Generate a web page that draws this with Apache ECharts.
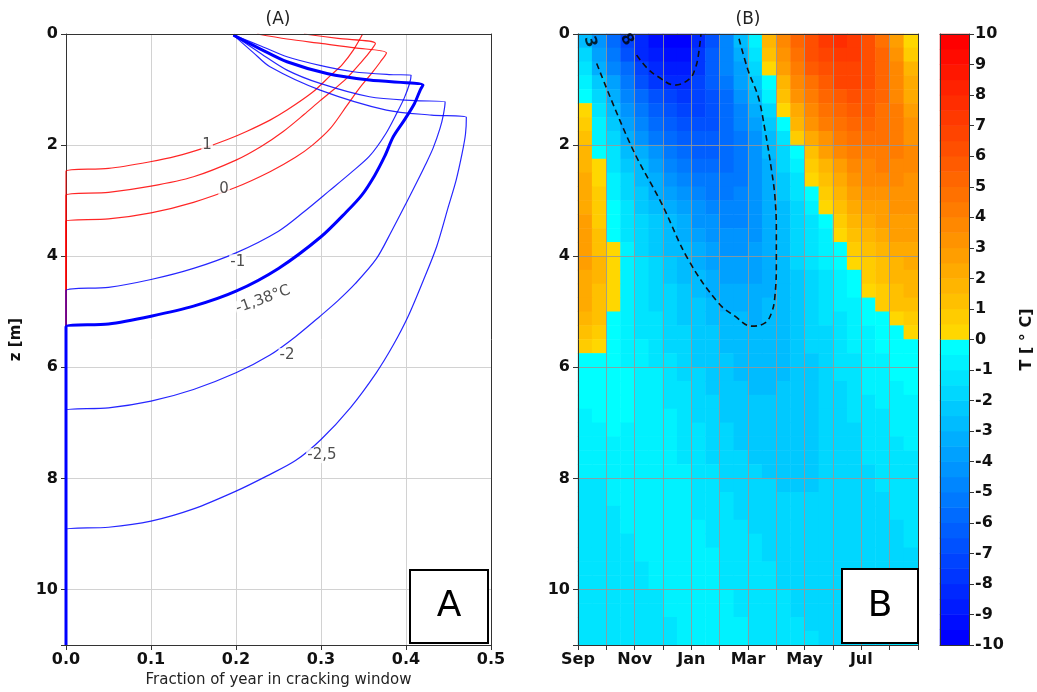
<!DOCTYPE html>
<html>
<head>
<meta charset="utf-8">
<title>Cracking window and ground temperature</title>
<script src="https://cdn.jsdelivr.net/npm/echarts@6.0.0/dist/echarts.min.js"></script>
<style>
  html, body { margin: 0; padding: 0; background: #ffffff; }
  #chart { width: 1037px; height: 692px; }
</style>
</head>
<body>
<div id="chart"></div>
<script>
// ---- (A) depth vs fraction of year in cracking window, [fraction, z]
var lineP1 = [[0.349,0],[0.338,0.29],[0.325,0.55],[0.311,0.75],[0.29,1.05],[0.26,1.37],[0.24,1.55],[0.213,1.75],[0.19,1.9],[0.161,2.06],[0.13,2.2],[0.099,2.3],[0.05,2.42],[0,2.47],[0,11]];
var lineP05 = [[0.28,0],[0.32,0.08],[0.364,0.17],[0.356,0.35],[0.346,0.53],[0.33,0.8],[0.315,1.0],[0.299,1.2],[0.28,1.45],[0.256,1.75],[0.23,2.02],[0.2,2.27],[0.15,2.57],[0.1,2.74],[0.05,2.85],[0,2.9],[0,11]];
var lineP0 = [[0.225,0],[0.26,0.09],[0.3,0.17],[0.34,0.25],[0.377,0.34],[0.37,0.5],[0.36,0.7],[0.345,0.98],[0.33,1.3],[0.311,1.7],[0.29,2.0],[0.27,2.22],[0.24,2.48],[0.2,2.76],[0.15,3.03],[0.1,3.22],[0.05,3.33],[0,3.37],[0,11]];
var lineM1 = [[0.197,0.02],[0.23,0.22],[0.26,0.41],[0.3,0.57],[0.338,0.68],[0.38,0.73],[0.406,0.74],[0.404,0.9],[0.398,1.15],[0.39,1.4],[0.376,1.8],[0.357,2.2],[0.335,2.5],[0.31,2.82],[0.28,3.2],[0.25,3.55],[0.2,3.94],[0.15,4.22],[0.1,4.42],[0.05,4.56],[0,4.62],[0,11]];
var lineM138 = [[0.197,0.02],[0.23,0.28],[0.26,0.5],[0.307,0.71],[0.357,0.83],[0.42,0.92],[0.417,1.0],[0.41,1.25],[0.398,1.55],[0.385,1.85],[0.375,2.2],[0.363,2.55],[0.348,2.9],[0.33,3.2],[0.3,3.65],[0.25,4.22],[0.2,4.63],[0.15,4.9],[0.1,5.08],[0.05,5.22],[0,5.27],[0,11]];
var lineM2 = [[0.197,0.02],[0.23,0.36],[0.26,0.65],[0.299,0.89],[0.357,1.13],[0.41,1.2],[0.446,1.22],[0.444,1.45],[0.44,1.7],[0.432,2.05],[0.423,2.35],[0.414,2.63],[0.4,3.05],[0.383,3.55],[0.365,4.05],[0.34,4.5],[0.32,4.8],[0.299,5.08],[0.27,5.45],[0.24,5.78],[0.2,6.1],[0.15,6.4],[0.1,6.61],[0.05,6.73],[0,6.77],[0,11]];
var lineM25 = [[0.197,0.02],[0.22,0.33],[0.24,0.59],[0.299,1.01],[0.377,1.37],[0.43,1.46],[0.471,1.5],[0.47,1.8],[0.466,2.15],[0.459,2.63],[0.45,3.1],[0.436,3.83],[0.42,4.45],[0.402,5.1],[0.385,5.6],[0.365,6.1],[0.335,6.72],[0.3,7.3],[0.27,7.68],[0.236,7.96],[0.2,8.23],[0.15,8.55],[0.1,8.77],[0.05,8.88],[0,8.92],[0,11]];
// contour labels: text, fraction, z, rotation
var labelsA = [['1',0.166,2.0,0],['0',0.186,2.8,0],['-1',0.202,4.1,0],['-1,38°C',0.232,4.78,20],['-2',0.26,5.79,0],['-2,5',0.301,7.59,0]];

// ---- (B) ground temperature, months since 1 Sep x depth
var monthNames = ['Sep','Oct','Nov','Dec','Jan','Feb','Mar','Apr','May','Jun','Jul','Aug'];
var monthCenters = [0.25,0.75,1.25,1.75,2.25,2.75,3.25,3.75,4.25,4.75,5.25,5.75,6.25,6.75,7.25,7.75,8.25,8.75,9.25,9.75,10.25,10.75,11.25,11.75];
var depthCenters = [0.125,0.375,0.625,0.875,1.125,1.375,1.625,1.875,2.125,2.375,2.625,2.875,3.125,3.375,3.625,3.875,4.125,4.375,4.625,4.875,5.125,5.375,5.625,5.875,6.125,6.375,6.625,6.875,7.125,7.375,7.625,7.875,8.125,8.375,8.625,8.875,9.125,9.375,9.625,9.875,10.125,10.375,10.625,10.875];
var tempRows = [
  [-2.6,-4.2,-5.6,-7.1,-8.5,-9.4,-9.9,-9.6,-8.3,-6.6,-4.7,-2.8,-0.6,1.8,3.9,5.3,6.4,7.2,7.6,7.2,6.2,4.6,2.6,0.2],
  [-2.0,-3.7,-5.1,-6.6,-8.1,-9.0,-9.4,-9.2,-8.0,-6.5,-4.8,-3.2,-1.2,1.0,3.2,4.8,6.0,6.9,7.3,7.1,6.3,5.0,3.2,0.8],
  [-1.3,-3.1,-4.6,-6.0,-7.3,-8.3,-8.8,-8.6,-7.7,-6.4,-5.0,-3.7,-2.0,0.3,2.5,4.2,5.5,6.4,6.9,6.9,6.3,5.2,3.6,1.5],
  [-0.6,-2.5,-4.0,-5.4,-6.6,-7.6,-8.2,-8.1,-7.5,-6.5,-5.3,-4.0,-2.5,-0.3,1.9,3.6,4.9,5.9,6.5,6.6,6.2,5.3,3.9,2.0],
  [-0.2,-1.9,-3.3,-4.7,-5.9,-6.8,-7.4,-7.6,-7.3,-6.6,-5.6,-4.4,-3.0,-1.0,1.2,3.0,4.3,5.3,5.9,6.1,5.8,5.1,3.9,2.3],
  [0.2,-1.4,-2.8,-4.1,-5.3,-6.2,-6.9,-7.2,-7.1,-6.6,-5.8,-4.7,-3.4,-1.6,0.4,2.3,3.7,4.7,5.4,5.6,5.5,4.9,4.0,2.7],
  [0.6,-1.0,-2.3,-3.6,-4.7,-5.6,-6.3,-6.8,-6.9,-6.6,-5.9,-5.0,-3.8,-2.2,-0.4,1.6,3.0,4.1,4.8,5.1,5.1,4.7,4.0,3.0],
  [1.1,-0.6,-1.9,-3.1,-4.2,-5.1,-5.8,-6.3,-6.5,-6.5,-6.0,-5.2,-4.1,-2.7,-1.1,0.7,2.2,3.4,4.2,4.6,4.7,4.5,4.0,3.3],
  [1.6,-0.2,-1.5,-2.6,-3.5,-4.4,-5.2,-5.8,-6.2,-6.3,-6.0,-5.3,-4.3,-3.0,-1.6,-0.1,1.3,2.6,3.5,4.0,4.3,4.3,4.0,3.5],
  [1.9,0.2,-1.2,-2.2,-3.0,-3.9,-4.7,-5.3,-5.7,-5.9,-5.8,-5.3,-4.4,-3.2,-1.9,-0.6,0.7,1.9,2.9,3.5,3.9,4.0,3.9,3.5],
  [2.1,0.4,-0.9,-1.9,-2.7,-3.5,-4.2,-4.8,-5.2,-5.5,-5.5,-5.1,-4.4,-3.3,-2.2,-1.1,0.1,1.3,2.3,3.0,3.5,3.7,3.7,3.4],
  [2.3,0.6,-0.6,-1.6,-2.4,-3.1,-3.8,-4.4,-4.8,-5.1,-5.2,-5.0,-4.4,-3.4,-2.4,-1.4,-0.4,0.8,1.8,2.5,3.0,3.3,3.4,3.3],
  [2.4,0.7,-0.4,-1.4,-2.1,-2.7,-3.3,-3.9,-4.4,-4.8,-5.0,-4.9,-4.4,-3.5,-2.6,-1.7,-0.8,0.2,1.2,2.0,2.6,2.9,3.1,3.1],
  [2.5,0.9,-0.2,-1.2,-1.9,-2.5,-3.0,-3.5,-4.1,-4.5,-4.7,-4.7,-4.3,-3.5,-2.7,-1.9,-1.1,-0.3,0.7,1.5,2.2,2.6,2.8,2.9],
  [2.5,1.1,-0.1,-1.1,-1.7,-2.3,-2.8,-3.2,-3.8,-4.2,-4.5,-4.5,-4.2,-3.5,-2.7,-2.0,-1.3,-0.6,0.2,1.0,1.7,2.2,2.5,2.7],
  [2.5,1.4,0.1,-1.0,-1.6,-2.1,-2.6,-3.0,-3.5,-3.9,-4.2,-4.2,-4.0,-3.5,-2.7,-2.0,-1.4,-0.9,-0.2,0.5,1.2,1.8,2.2,2.4],
  [2.5,1.5,0.1,-0.9,-1.5,-2.0,-2.4,-2.8,-3.2,-3.6,-3.9,-4.0,-3.9,-3.4,-2.7,-2.0,-1.5,-1.0,-0.5,0.2,0.8,1.4,1.9,2.2],
  [2.4,1.5,0.2,-0.9,-1.4,-1.8,-2.2,-2.6,-2.9,-3.3,-3.6,-3.8,-3.7,-3.3,-2.7,-2.1,-1.6,-1.2,-0.7,-0.1,0.5,1.1,1.6,1.9],
  [2.2,1.4,0.2,-0.9,-1.3,-1.7,-2.0,-2.3,-2.7,-3.1,-3.4,-3.5,-3.5,-3.1,-2.7,-2.2,-1.7,-1.3,-0.9,-0.4,0.2,0.8,1.3,1.6],
  [2.0,1.2,0.1,-0.9,-1.3,-1.6,-1.9,-2.2,-2.5,-2.8,-3.1,-3.3,-3.3,-3.0,-2.6,-2.2,-1.8,-1.4,-1.0,-0.6,-0.1,0.5,1.0,1.3],
  [1.7,1.0,-0.2,-0.9,-1.2,-1.5,-1.8,-2.1,-2.3,-2.6,-2.8,-3.0,-3.1,-2.9,-2.6,-2.2,-1.8,-1.5,-1.1,-0.8,-0.4,-0.1,0.4,0.8],
  [1.3,0.8,-0.3,-0.8,-1.1,-1.4,-1.7,-2.0,-2.2,-2.5,-2.7,-2.8,-2.9,-2.8,-2.6,-2.3,-1.9,-1.6,-1.2,-0.9,-0.6,-0.3,-0.1,0.4],
  [0.6,0.1,-0.4,-0.7,-1.0,-1.3,-1.6,-1.9,-2.1,-2.4,-2.6,-2.7,-2.8,-2.8,-2.6,-2.3,-2.0,-1.7,-1.4,-1.0,-0.7,-0.5,-0.3,-0.1],
  [-0.2,-0.3,-0.5,-0.7,-0.9,-1.2,-1.5,-1.8,-2.1,-2.3,-2.5,-2.7,-2.8,-2.8,-2.6,-2.4,-2.1,-1.8,-1.5,-1.2,-0.9,-0.6,-0.4,-0.2],
  [-0.3,-0.3,-0.4,-0.5,-0.7,-1.0,-1.3,-1.6,-1.9,-2.2,-2.4,-2.6,-2.7,-2.7,-2.6,-2.4,-2.1,-1.8,-1.5,-1.2,-0.9,-0.7,-0.5,-0.3],
  [-0.3,-0.3,-0.4,-0.5,-0.7,-0.9,-1.2,-1.5,-1.8,-2.1,-2.3,-2.5,-2.6,-2.6,-2.5,-2.4,-2.1,-1.9,-1.6,-1.3,-1.0,-0.8,-0.6,-0.4],
  [-0.4,-0.3,-0.4,-0.5,-0.7,-0.9,-1.1,-1.4,-1.7,-2.0,-2.2,-2.4,-2.5,-2.5,-2.5,-2.4,-2.2,-1.9,-1.7,-1.4,-1.1,-0.9,-0.7,-0.6],
  [-0.6,-0.4,-0.4,-0.5,-0.7,-0.8,-1.0,-1.3,-1.6,-1.9,-2.1,-2.3,-2.4,-2.5,-2.5,-2.4,-2.2,-2.0,-1.8,-1.5,-1.3,-1.1,-0.9,-0.8],
  [-0.7,-0.6,-0.5,-0.6,-0.7,-0.8,-1.0,-1.2,-1.5,-1.8,-2.0,-2.2,-2.3,-2.4,-2.4,-2.4,-2.2,-2.0,-1.8,-1.6,-1.4,-1.2,-1.0,-0.9],
  [-0.8,-0.8,-0.7,-0.6,-0.7,-0.8,-0.9,-1.1,-1.4,-1.7,-1.9,-2.1,-2.2,-2.3,-2.3,-2.3,-2.2,-2.0,-1.8,-1.6,-1.5,-1.3,-1.1,-1.0],
  [-0.9,-0.9,-0.8,-0.7,-0.7,-0.8,-0.9,-1.1,-1.3,-1.6,-1.8,-2.0,-2.1,-2.2,-2.3,-2.3,-2.2,-2.0,-1.9,-1.7,-1.5,-1.4,-1.2,-1.1],
  [-1.0,-1.0,-0.9,-0.8,-0.7,-0.8,-0.9,-1.0,-1.2,-1.5,-1.7,-1.9,-2.0,-2.1,-2.2,-2.2,-2.1,-2.0,-1.9,-1.7,-1.6,-1.4,-1.3,-1.2],
  [-1.1,-1.1,-1.0,-0.9,-0.8,-0.8,-0.9,-1.0,-1.2,-1.4,-1.6,-1.8,-1.9,-2.0,-2.1,-2.1,-2.1,-2.0,-1.9,-1.8,-1.6,-1.5,-1.4,-1.3],
  [-1.2,-1.1,-1.0,-0.9,-0.8,-0.8,-0.9,-1.0,-1.1,-1.3,-1.5,-1.7,-1.8,-1.9,-2.0,-2.0,-2.0,-1.9,-1.9,-1.8,-1.7,-1.6,-1.5,-1.4],
  [-1.3,-1.2,-1.1,-1.0,-0.9,-0.8,-0.8,-0.9,-1.1,-1.2,-1.4,-1.6,-1.7,-1.8,-1.9,-1.9,-1.9,-1.9,-1.8,-1.8,-1.7,-1.6,-1.5,-1.4],
  [-1.3,-1.2,-1.1,-1.0,-0.9,-0.8,-0.8,-0.9,-1.0,-1.2,-1.3,-1.5,-1.6,-1.7,-1.8,-1.9,-1.9,-1.9,-1.8,-1.8,-1.7,-1.6,-1.6,-1.5],
  [-1.4,-1.3,-1.2,-1.1,-0.9,-0.8,-0.8,-0.9,-1.0,-1.1,-1.3,-1.4,-1.5,-1.7,-1.8,-1.8,-1.9,-1.9,-1.8,-1.8,-1.7,-1.7,-1.6,-1.5],
  [-1.4,-1.3,-1.2,-1.1,-1.0,-0.9,-0.8,-0.9,-0.9,-1.0,-1.2,-1.3,-1.5,-1.6,-1.7,-1.8,-1.8,-1.8,-1.8,-1.8,-1.7,-1.7,-1.6,-1.6],
  [-1.4,-1.4,-1.3,-1.2,-1.1,-0.9,-0.9,-0.9,-0.9,-1.0,-1.1,-1.3,-1.4,-1.5,-1.6,-1.7,-1.8,-1.8,-1.8,-1.8,-1.7,-1.7,-1.6,-1.6],
  [-1.5,-1.4,-1.3,-1.2,-1.1,-1.0,-0.9,-0.9,-0.9,-1.0,-1.1,-1.2,-1.3,-1.5,-1.6,-1.7,-1.7,-1.8,-1.8,-1.7,-1.7,-1.7,-1.6,-1.6],
  [-1.5,-1.4,-1.4,-1.3,-1.2,-1.1,-1.0,-0.9,-0.9,-1.0,-1.0,-1.1,-1.3,-1.4,-1.5,-1.6,-1.7,-1.7,-1.7,-1.7,-1.7,-1.7,-1.6,-1.6],
  [-1.5,-1.5,-1.4,-1.3,-1.2,-1.1,-1.0,-1.0,-0.9,-0.9,-1.0,-1.1,-1.2,-1.3,-1.5,-1.6,-1.6,-1.7,-1.7,-1.7,-1.7,-1.6,-1.6,-1.6],
  [-1.5,-1.5,-1.4,-1.4,-1.3,-1.2,-1.1,-1.0,-0.9,-0.9,-1.0,-1.0,-1.1,-1.3,-1.4,-1.5,-1.6,-1.6,-1.7,-1.7,-1.6,-1.6,-1.6,-1.5],
  [-1.5,-1.5,-1.5,-1.4,-1.3,-1.2,-1.1,-1.0,-1.0,-0.9,-0.9,-1.0,-1.1,-1.2,-1.3,-1.5,-1.5,-1.6,-1.6,-1.6,-1.6,-1.6,-1.5,-1.5]
];
// dashed isotherms in (B), [month, z]
var contourM3 = [[0.66,0.53],[1.89,2.03],[2.95,3.05],[3.89,4.06],[4.95,4.84],[5.54,5.08],[6.13,5.26],[6.6,5.2],[6.83,5.02],[6.95,4.72],[7.0,4.12],[7.0,3.53],[6.95,2.93],[6.83,2.45],[6.6,1.73],[6.36,1.13],[6.0,0.65],[5.65,0.02]];
var contourM8 = [[2.07,0.38],[2.45,0.62],[2.83,0.77],[3.42,0.92],[3.95,0.8],[4.15,0.6],[4.24,0.41],[4.34,0]];
var labelsB = [['3',0.42,0.14,-75],['8',1.72,0.1,-60]];

// colour bar bins
var cbarLevels = [-9.75,-9.25,-8.75,-8.25,-7.75,-7.25,-6.75,-6.25,-5.75,-5.25,-4.75,-4.25,-3.75,-3.25,-2.75,-2.25,-1.75,-1.25,-0.75,-0.25,0.25,0.75,1.25,1.75,2.25,2.75,3.25,3.75,4.25,4.75,5.25,5.75,6.25,6.75,7.25,7.75,8.25,8.75,9.25,9.75];

var FONT = 'DejaVu Sans';
var tickText = { fontFamily: FONT, fontSize: 16, fontWeight: 'bold', color: '#111' };

var heatData = [];
tempRows.forEach(function (row, i) {
  row.forEach(function (t, j) { heatData.push([j, i, t]); });
});
var cbarData = cbarLevels.map(function (v, k) { return [0, k, v]; });

// 0.5 degC bins: cyan -> blue below zero, gold -> red above
var pieces = [];
for (var k = 0; k < 20; k++) {
  pieces.push({ gte: -0.5 * (k + 1), lt: -0.5 * k, color: 'rgb(0,' + Math.round(255 * (19 - k) / 19) + ',255)' });
  pieces.push({ gte: 0.5 * k, lt: 0.5 * (k + 1), color: 'rgb(255,' + Math.round(215 * (19 - k) / 19) + ',0)' });
}

function frameAxis(gridIndex, position, min, max, inverse) {
  return {
    type: 'value', gridIndex: gridIndex, position: position, min: min, max: max, inverse: !!inverse,
    axisLine: { show: true, onZero: false, lineStyle: { color: '#333', width: 1 } },
    axisTick: { show: false }, axisLabel: { show: false }, splitLine: { show: false }, z: 4
  };
}

function lineA(name, data, color, width) {
  return {
    name: name, type: 'line', xAxisIndex: 0, yAxisIndex: 0, data: data,
    symbol: 'none', smooth: 0.3, lineStyle: { color: color, width: width }, z: 3
  };
}

var chart = echarts.init(document.getElementById('chart'));
chart.setOption({
  animation: false,
  backgroundColor: '#ffffff',
  grid: [
    { left: 66, top: 34, width: 425, height: 611, outerBoundsMode: 'none' },
    { left: 578, top: 34, width: 340, height: 611, outerBoundsMode: 'none' },
    { left: 940, top: 34, width: 29, height: 611, outerBoundsMode: 'none' }
  ],
  visualMap: { type: 'piecewise', show: false, dimension: 2, seriesIndex: [0, 1], pieces: pieces },
  xAxis: [
    {
      type: 'value', gridIndex: 0, position: 'bottom', min: 0, max: 0.5, interval: 0.1,
      axisLine: { onZero: false, lineStyle: { color: '#333' } },
      axisTick: { show: true, length: 5, lineStyle: { color: '#333' } },
      axisLabel: Object.assign({ margin: 7, formatter: function (v) { return v.toFixed(1); } }, tickText),
      splitLine: { show: true, lineStyle: { color: '#d2d2d2' } },
      name: 'Fraction of year in cracking window', nameLocation: 'middle', nameGap: 28,
      nameTextStyle: { fontFamily: FONT, fontSize: 15, color: '#222' }
    },
    frameAxis(0, 'top', 0, 0.5),
    { type: 'category', gridIndex: 1, position: 'bottom', data: monthCenters, show: false },
    {
      type: 'value', gridIndex: 1, position: 'bottom', min: 0, max: 12, interval: 1, z: 3,
      axisLine: { onZero: false, lineStyle: { color: '#333' } },
      axisTick: { show: true, length: 5, lineStyle: { color: '#333' } },
      axisLabel: Object.assign({ margin: 7, formatter: function (v) { return (v % 2 === 0 && v < 12) ? monthNames[v] : ''; } }, tickText),
      splitLine: { show: true, lineStyle: { color: 'rgba(150,150,150,0.85)' } }
    },
    frameAxis(1, 'top', 0, 12),
    {
      type: 'category', gridIndex: 2, position: 'bottom', data: ['T'], z: 4,
      axisLine: { show: true, onZero: false, lineStyle: { color: '#333' } },
      axisTick: { show: false }, axisLabel: { show: false }
    },
    {
      type: 'category', gridIndex: 2, data: ['T'], position: 'top', z: 4,
      axisLine: { show: true, onZero: false, lineStyle: { color: '#333' } },
      axisTick: { show: false }, axisLabel: { show: false }
    }
  ],
  yAxis: [
    {
      type: 'value', gridIndex: 0, position: 'left', min: 0, max: 11, interval: 2, inverse: true,
      axisLine: { onZero: false, lineStyle: { color: '#333' } },
      axisTick: { show: true, length: 5, lineStyle: { color: '#333' } },
      axisLabel: Object.assign({ margin: 8, formatter: function (v) { return v === 11 ? '' : v; } }, tickText),
      splitLine: { show: true, lineStyle: { color: '#d2d2d2' } },
      name: 'z [m]', nameLocation: 'middle', nameGap: 42, nameRotate: 90,
      nameTextStyle: { fontFamily: FONT, fontSize: 15, fontWeight: 'bold', color: '#111' }
    },
    frameAxis(0, 'right', 0, 11, true),
    { type: 'category', gridIndex: 1, position: 'left', data: depthCenters, inverse: true, show: false },
    {
      type: 'value', gridIndex: 1, position: 'left', min: 0, max: 11, interval: 2, inverse: true, z: 3,
      axisLine: { onZero: false, lineStyle: { color: '#333' } },
      axisTick: { show: true, length: 5, lineStyle: { color: '#333' } },
      axisLabel: Object.assign({ margin: 8, formatter: function (v) { return v === 11 ? '' : v; } }, tickText),
      splitLine: { show: true, lineStyle: { color: 'rgba(150,150,150,0.85)' } }
    },
    frameAxis(1, 'right', 0, 11, true),
    {
      type: 'category', gridIndex: 2, position: 'left', data: cbarLevels, z: 4,
      axisLine: { show: true, onZero: false, lineStyle: { color: '#333' } },
      axisTick: { show: false }, axisLabel: { show: false }
    },
    {
      type: 'value', gridIndex: 2, position: 'right', min: -10, max: 10, interval: 1, z: 4,
      axisLine: { show: true, onZero: false, lineStyle: { color: '#333' } },
      axisTick: { show: true, length: 5, lineStyle: { color: '#333' } },
      axisLabel: Object.assign({ margin: 6 }, tickText),
      splitLine: { show: false },
      name: 'T [ ° C]', nameLocation: 'middle', nameRotate: 90, nameGap: 50,
      nameTextStyle: { fontFamily: FONT, fontSize: 16, fontWeight: 'bold', color: '#111' }
    }
  ],
  series: [
    { type: 'heatmap', xAxisIndex: 2, yAxisIndex: 2, data: heatData, z: 1, emphasis: { disabled: true } },
    { type: 'heatmap', xAxisIndex: 5, yAxisIndex: 5, data: cbarData, z: 1, emphasis: { disabled: true } },
    {
      type: 'line', xAxisIndex: 3, yAxisIndex: 3, data: contourM3, symbol: 'none', smooth: 0.4, z: 6,
      lineStyle: { color: '#111', width: 1.6, type: [6, 4] }
    },
    {
      type: 'line', xAxisIndex: 3, yAxisIndex: 3, data: contourM8, symbol: 'none', smooth: 0.4, z: 6,
      lineStyle: { color: '#111', width: 1.6, type: [6, 4] }
    },
    {
      type: 'scatter', xAxisIndex: 3, yAxisIndex: 3, symbolSize: 0, z: 7,
      data: labelsB.map(function (l) { return { name: l[0], value: [l[1], l[2]], label: { rotate: l[3] } }; }),
      label: { show: true, position: 'inside', formatter: '{b}', fontFamily: FONT, fontSize: 16, fontWeight: 'bold', color: '#000' }
    },
    lineA('1', lineP1, 'rgba(255,0,0,0.85)', 1.2),
    lineA('0.5', lineP05, 'rgba(255,0,0,0.85)', 1.2),
    lineA('0', lineP0, 'rgba(255,0,0,0.85)', 1.2),
    lineA('-1', lineM1, 'rgba(0,0,255,0.85)', 1.2),
    lineA('-1.38', lineM138, 'rgba(0,0,255,1)', 3),
    lineA('-2', lineM2, 'rgba(0,0,255,0.85)', 1.2),
    lineA('-2.5', lineM25, 'rgba(0,0,255,0.85)', 1.2),
    {
      type: 'scatter', xAxisIndex: 0, yAxisIndex: 0, symbolSize: 0, z: 8,
      data: labelsA.map(function (l) { return { name: l[0], value: [l[1], l[2]], label: { rotate: l[3] } }; }),
      label: {
        show: true, position: 'inside', formatter: '{b}', fontFamily: FONT, fontSize: 15, color: '#222',
        backgroundColor: '#ffffff', padding: [0, 1]
      }
    }
  ],
  graphic: [
    { type: 'text', x: 278, y: 20, z: 100, style: { text: '(A)', fill: '#222', font: '17px "DejaVu Sans"', align: 'center', verticalAlign: 'middle', textAlign: 'center', textVerticalAlign: 'middle' } },
    { type: 'text', x: 748, y: 20, z: 100, style: { text: '(B)', fill: '#222', font: '17px "DejaVu Sans"', align: 'center', verticalAlign: 'middle', textAlign: 'center', textVerticalAlign: 'middle' } },
    { type: 'rect', z: 100, shape: { x: 410, y: 570, width: 78, height: 73 }, style: { fill: '#ffffff', stroke: '#000', lineWidth: 2 } },
    { type: 'text', x: 449, y: 607, z: 101, style: { text: 'A', fill: '#000', font: '36px "DejaVu Sans"', align: 'center', verticalAlign: 'middle', textAlign: 'center', textVerticalAlign: 'middle' } },
    { type: 'rect', z: 100, shape: { x: 842, y: 569, width: 76, height: 74 }, style: { fill: '#ffffff', stroke: '#000', lineWidth: 2 } },
    { type: 'text', x: 880, y: 607, z: 101, style: { text: 'B', fill: '#000', font: '36px "DejaVu Sans"', align: 'center', verticalAlign: 'middle', textAlign: 'center', textVerticalAlign: 'middle' } }
  ]
});
</script>
</body>
</html>
